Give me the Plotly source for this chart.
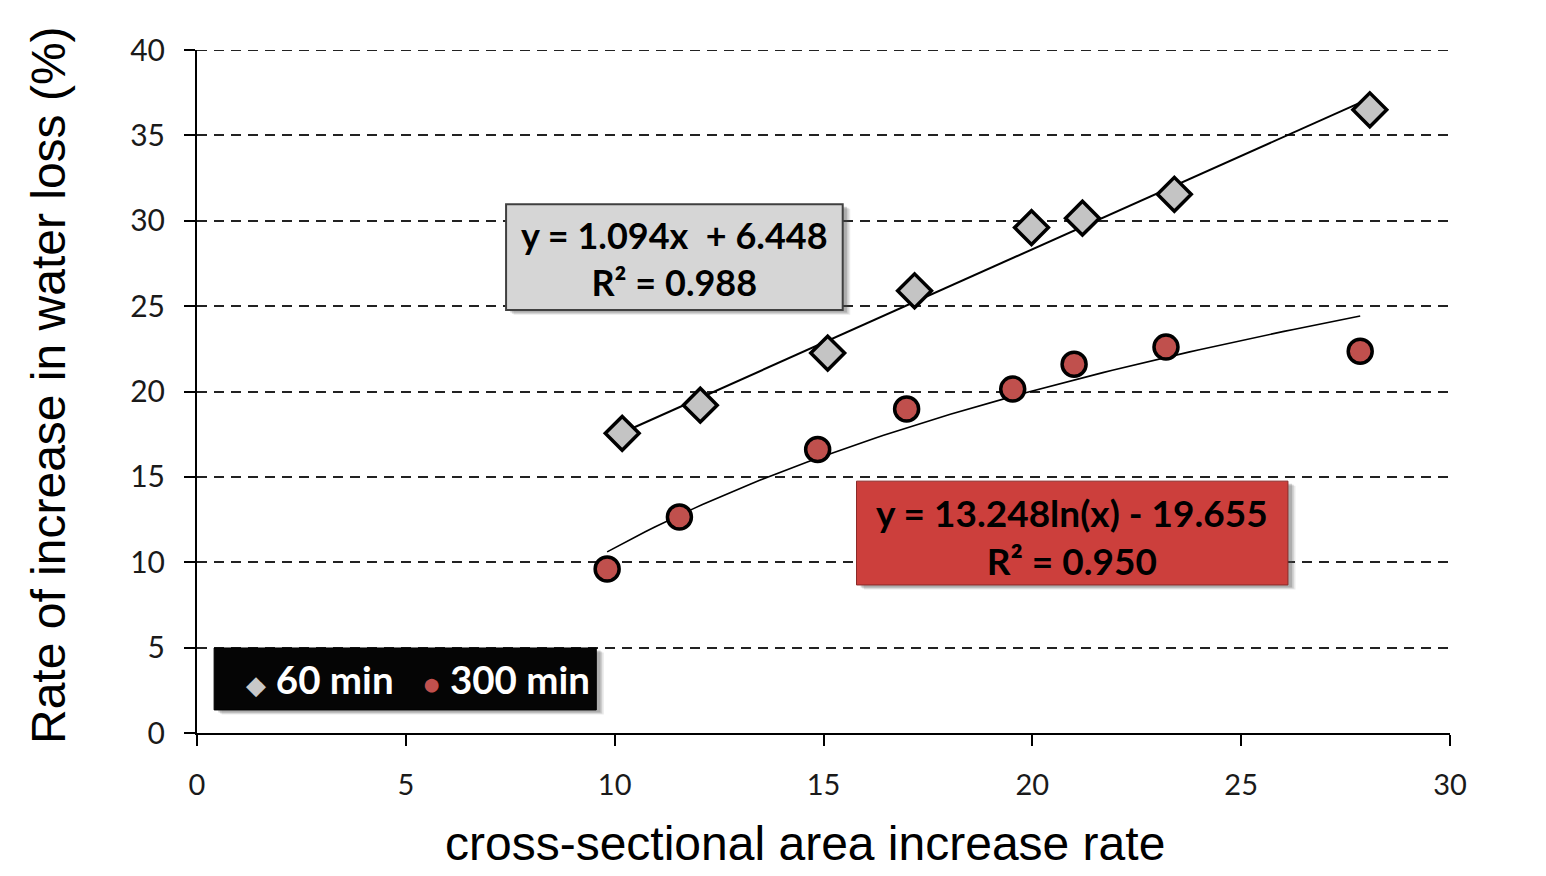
import numpy as np
import plotly.graph_objects as go

# ---- data ----
x60 = [10.18, 12.05, 15.10, 17.18, 19.98, 21.20, 23.40, 28.08]
y60 = [17.55, 19.20, 22.25, 25.90, 29.60, 30.15, 31.55, 36.50]
x300 = [9.82, 11.55, 14.86, 16.99, 19.53, 21.00, 23.20, 27.85]
y300 = [9.60, 12.65, 16.60, 18.97, 20.14, 21.60, 22.60, 22.36]
lin_a, lin_b = 1.094, 6.448
log_a, log_b = 13.248, -19.655
x_ticks = [0, 5, 10, 15, 20, 25, 30]
y_ticks = [0, 5, 10, 15, 20, 25, 30, 35, 40]

LABEL_FONT = "Lato"
TITLE_FONT = "Liberation Sans, Arial"

fig = go.Figure()

# trend lines (from the displayed equations)
xl = np.linspace(min(x60), max(x60), 50)
fig.add_trace(go.Scatter(x=xl, y=lin_a * xl + lin_b, mode="lines",
                         line=dict(color="black", width=2), showlegend=False, hoverinfo="skip"))
xg = np.linspace(min(x300), max(x300), 80)
fig.add_trace(go.Scatter(x=xg, y=log_a * np.log(xg) + log_b, mode="lines",
                         line=dict(color="black", width=1.6), showlegend=False, hoverinfo="skip"))

fig.add_trace(go.Scatter(x=x60, y=y60, mode="markers", name="60 min",
                         marker=dict(symbol="diamond", size=26, color="#c4c4c4",
                                     line=dict(color="black", width=3.5)), showlegend=False))
fig.add_trace(go.Scatter(x=x300, y=y300, mode="markers", name="300 min",
                         marker=dict(symbol="circle", size=24, color="#c0504d",
                                     line=dict(color="black", width=3.5)), showlegend=False))

shapes = []
# top gridline (plotly drops the one on the plot edge)
shapes.append(dict(type="line", xref="x", yref="y", layer="below",
                   x0=x_ticks[0], x1=x_ticks[-1], y0=y_ticks[-1], y1=y_ticks[-1],
                   line=dict(color="#222222", width=2, dash="10px,7px")))

def box(x0, y0, x1, y1, fill, line_color, lw=1.5, shadow=True):
    if shadow:
        for i, op in enumerate([0.12, 0.18, 0.25]):
            d = 0.18 - i * 0.04
            shapes.append(dict(type="rect", xref="x", yref="y", layer="above",
                               x0=x0 + d, x1=x1 + d, y0=y0 - d * 1.5, y1=y1 - d * 1.5,
                               fillcolor="rgba(80,80,80,%s)" % op, line=dict(width=0)))
    shapes.append(dict(type="rect", xref="x", yref="y", layer="above",
                       x0=x0, x1=x1, y0=y0, y1=y1, fillcolor=fill,
                       line=dict(color=line_color, width=lw)))

# equation boxes and legend box
box(7.40, 24.77, 15.46, 30.97, "#d6d6d6", "#404040", 2)
box(15.79, 8.67, 26.12, 14.75, "#cc3f3c", "#8a2a28", 1)
box(0.41, 1.35, 9.56, 4.98, "#050505", "#000000", 1)

W, H = 1546, 876
L, R, T, B = 197, 96, 50, 143
pw, ph = W - L - R, H - T - B

def px_x(v):
    return (v - L) / pw

def px_y(v):
    return (H - B - v) / ph

annotations = [
    dict(x=11.43, y=27.80, xref="x", yref="y", showarrow=False,
         xanchor="center", yanchor="middle",
         text="<b>y = 1.094x  + 6.448<br>R² = 0.988</b>",
         font=dict(family=LABEL_FONT, size=36, color="black")),
    dict(x=20.95, y=11.52, xref="x", yref="y", showarrow=False,
         xanchor="center", yanchor="middle",
         text="<b>y = 13.248ln(x) - 19.655<br>R² = 0.950</b>",
         font=dict(family=LABEL_FONT, size=37, color="black")),
    dict(x=5.30, y=3.15, xref="x", yref="y", showarrow=False,
         xanchor="center", yanchor="middle",
         text="<span style='color:#c8c8c8;font-size:26px'>◆</span> <b>60 min</b>&nbsp;&nbsp;&nbsp;"
              "<span style='color:#c0504d;font-size:28px'>●</span>&nbsp;<b>300 min</b>",
         font=dict(family=LABEL_FONT, size=38.5, color="white")),
    dict(x=px_x(48), y=px_y(385), xref="paper", yref="paper", showarrow=False,
         xanchor="center", yanchor="middle", textangle=-90,
         text="Rate of increase in water loss (%)",
         font=dict(family=TITLE_FONT, size=48, color="black")),
    dict(x=px_x(805), y=px_y(843), xref="paper", yref="paper", showarrow=False,
         xanchor="center", yanchor="middle",
         text="cross-sectional area increase rate",
         font=dict(family=TITLE_FONT, size=48, color="black")),
]

fig.update_layout(
    width=W, height=H,
    margin=dict(l=L, r=R, t=T, b=B, pad=0),
    paper_bgcolor="white", plot_bgcolor="white",
    shapes=shapes, annotations=annotations,
    xaxis=dict(range=[0, 30], tickvals=x_ticks, ticks="outside", ticklen=11, tickwidth=2,
               tickcolor="black", showline=True, linecolor="black", linewidth=2,
               showgrid=False, zeroline=False, ticklabelstandoff=14,
               tickfont=dict(family=LABEL_FONT, size=29, color="#1a1a1a")),
    yaxis=dict(range=[0, 40], tickvals=y_ticks, ticks="outside", ticklen=11, tickwidth=2,
               tickcolor="black", showline=True, linecolor="black", linewidth=2,
               showgrid=True, gridcolor="#222222", gridwidth=2, griddash="10px,7px",
               zeroline=False, ticklabelstandoff=13,
               tickfont=dict(family=LABEL_FONT, size=30, color="#1a1a1a")),
    showlegend=False,
)

fig.write_html("out.html")
